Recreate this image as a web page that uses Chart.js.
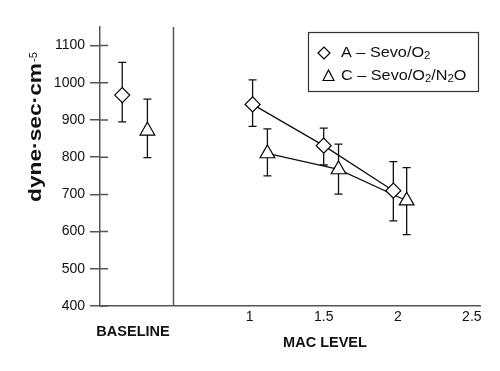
<!DOCTYPE html>
<html>
<head>
<meta charset="utf-8">
<script src="https://cdn.jsdelivr.net/npm/chart.js@4/dist/chart.umd.min.js"></script>
<style>
  html, body { margin: 0; padding: 0; background: #fff; }
</style>
</head>
<body>
<canvas id="myChart" width="500" height="371"></canvas>
<script>
// values
const xTicks = [1, 1.5, 2, 2.5];
const yTicks = [400, 500, 600, 700, 800, 900, 1000, 1100];

const macA = [1.02, 1.5, 1.97];
const resA = [942, 831, 710];
const resALow = [883, 779, 629];
const resAHigh = [1008, 878, 788];

const macC = [1.12, 1.6, 2.06];
const resC = [810, 767, 683];
const resCLow = [750, 701, 592];
const resCHigh = [876, 835, 772];

const baseX = [0.14, 0.31];      // A, C at baseline
const baseRes = [967, 871];
const baseLow = [895, 799];
const baseHigh = [1055, 956];

const FONT = "'Liberation Sans', Arial, Helvetica, sans-serif";
const INK = '#111';
const AXIS = '#555';

function pts(xs, ys) {
  return xs.map((x, i) => ({ x: x, y: ys[i] }));
}

const marker = { pointBackgroundColor: '#fff', pointBorderColor: '#000', pointBorderWidth: 1.2 };
const pointA = Object.assign({ pointStyle: 'rectRot', pointRadius: 7.5 }, marker);
const pointC = Object.assign({ pointStyle: 'triangle', pointRadius: 8.5 }, marker);

const errorBars = {
  id: 'errorBars',
  beforeDatasetsDraw(chart) {
    const { ctx, scales: { x, y } } = chart;
    ctx.save();
    ctx.strokeStyle = INK;
    ctx.lineWidth = 1.3;
    chart.data.datasets.forEach(ds => {
      ds.data.forEach((p, i) => {
        const px = x.getPixelForValue(p.x);
        const lo = y.getPixelForValue(ds.errLow[i]);
        const hi = y.getPixelForValue(ds.errHigh[i]);
        ctx.beginPath();
        ctx.moveTo(px, lo); ctx.lineTo(px, hi);
        ctx.moveTo(px - 4, lo); ctx.lineTo(px + 4, lo);
        ctx.moveTo(px - 4, hi); ctx.lineTo(px + 4, hi);
        ctx.stroke();
      });
    });
    ctx.restore();
  }
};

// text runs with optional subscripts, stretched horizontally
function drawRuns(ctx, runs, x, y, size, sx) {
  ctx.save();
  ctx.translate(x, y);
  ctx.scale(sx, 1);
  let cx = 0;
  runs.forEach(r => {
    const s = r.sub ? size * 0.7 : size;
    ctx.font = s + 'px ' + FONT;
    ctx.fillText(r.t, cx, r.sub ? size * 0.25 : 0);
    cx += ctx.measureText(r.t).width;
  });
  ctx.restore();
}

const decorations = {
  id: 'decorations',
  afterDraw(chart) {
    const { ctx, chartArea: a, scales: { x, y } } = chart;
    ctx.save();
    ctx.strokeStyle = AXIS;
    ctx.lineWidth = 1.5;
    // divider between baseline and MAC level
    const dx = Math.round(x.getPixelForValue(0.48)) + 0.5;
    ctx.beginPath();
    ctx.moveTo(dx, a.top); ctx.lineTo(dx, a.bottom);
    // inner half of y ticks
    y.ticks.forEach(t => {
      const py = y.getPixelForValue(t.value);
      ctx.moveTo(a.left, py); ctx.lineTo(a.left + 8, py);
    });
    ctx.stroke();

    ctx.fillStyle = INK;
    ctx.textBaseline = 'middle';
    ctx.textAlign = 'center';
    ctx.font = 'bold 14.5px ' + FONT;
    ctx.fillText('BASELINE', a.left + 33, 332);
    ctx.fillText('MAC LEVEL', 325, 343);

    // y title
    ctx.save();
    ctx.translate(41, 202);
    ctx.rotate(-Math.PI / 2);
    ctx.textAlign = 'left';
    ctx.textBaseline = 'alphabetic';
    ctx.font = 'bold 19px ' + FONT;
    const main = 'dyne\u00b7sec\u00b7cm';
    const w = ctx.measureText(main).width;
    ctx.save();
    ctx.scale(139 / w, 1);
    ctx.fillText(main, 0, 0);
    ctx.restore();
    ctx.font = '11px ' + FONT;
    ctx.fillText('-5', 140, -4);
    ctx.restore();

    // legend
    const lx = a.right - 171.5, ly = a.top + 5.5;
    ctx.strokeStyle = '#333';
    ctx.lineWidth = 1.2;
    ctx.strokeRect(lx, ly, 170, 59);
    const r1 = ly + 20.5, r2 = ly + 43;
    ctx.beginPath();
    ctx.moveTo(lx + 9.5, r1); ctx.lineTo(lx + 15.5, r1 - 6);
    ctx.lineTo(lx + 21.5, r1); ctx.lineTo(lx + 15.5, r1 + 6);
    ctx.closePath();
    const tx = lx + 20, ty = r2 + 1.5, tr = 7;
    ctx.moveTo(tx, ty - tr);
    ctx.lineTo(tx + tr * 0.78, ty + tr / 2);
    ctx.lineTo(tx - tr * 0.78, ty + tr / 2);
    ctx.closePath();
    ctx.fillStyle = '#fff';
    ctx.fill();
    ctx.strokeStyle = '#000';
    ctx.lineWidth = 1.2;
    ctx.stroke();
    ctx.fillStyle = INK;
    ctx.textAlign = 'left';
    ctx.textBaseline = 'middle';
    drawRuns(ctx, [{ t: 'A \u2013 Sevo/O' }, { t: '2', sub: true }], lx + 32.5, r1, 14.5, 1.12);
    drawRuns(ctx, [{ t: 'C \u2013 Sevo/O' }, { t: '2', sub: true }, { t: '/N' }, { t: '2', sub: true }, { t: 'O' }], lx + 32.5, r2, 14.5, 1.12);
    ctx.restore();
  }
};

new Chart(document.getElementById('myChart'), {
  type: 'scatter',
  data: {
    datasets: [
      Object.assign({ label: 'A \u2013 Sevo/O\u2082', data: pts(macA, resA), errLow: resALow, errHigh: resAHigh,
        showLine: true, borderColor: INK, borderWidth: 1.3 }, pointA),
      Object.assign({ label: 'C \u2013 Sevo/O\u2082/N\u2082O', data: pts(macC, resC), errLow: resCLow, errHigh: resCHigh,
        showLine: true, borderColor: INK, borderWidth: 1.3 }, pointC),
      Object.assign({ label: 'A baseline', data: pts([baseX[0]], [baseRes[0]]), errLow: [baseLow[0]], errHigh: [baseHigh[0]],
        showLine: false }, pointA),
      Object.assign({ label: 'C baseline', data: pts([baseX[1]], [baseRes[1]]), errLow: [baseLow[1]], errHigh: [baseHigh[1]],
        showLine: false }, pointC)
    ]
  },
  options: {
    responsive: false,
    animation: false,
    events: [],
    layout: { padding: { top: 27, right: 20, left: 0, bottom: 0 } },
    plugins: {
      legend: { display: false },
      tooltip: { enabled: false }
    },
    scales: {
      x: {
        type: 'linear',
        min: -0.01,
        max: 2.555,
        afterBuildTicks: s => { s.ticks = xTicks.map(v => ({ value: v })); },
        afterFit: s => { s.height = 65; },
        grid: { drawOnChartArea: false, drawTicks: false, color: 'transparent' },
        border: { display: true, color: AXIS, width: 1.5 },
        ticks: { color: INK, padding: 3, font: { family: FONT, size: 14 }, callback: v => String(v) }
      },
      y: {
        min: 400,
        max: 1150,
        afterBuildTicks: s => { s.ticks = yTicks.map(v => ({ value: v })); },
        afterFit: s => { s.width = 100; },
        grid: { drawOnChartArea: false, drawTicks: true, tickLength: 10, color: AXIS, lineWidth: 1.5 },
        border: { display: true, color: AXIS, width: 1.5 },
        ticks: { color: INK, padding: 5, font: { family: FONT, size: 14 }, callback: v => String(v) }
      }
    }
  },
  plugins: [errorBars, decorations]
});
</script>
</body>
</html>
